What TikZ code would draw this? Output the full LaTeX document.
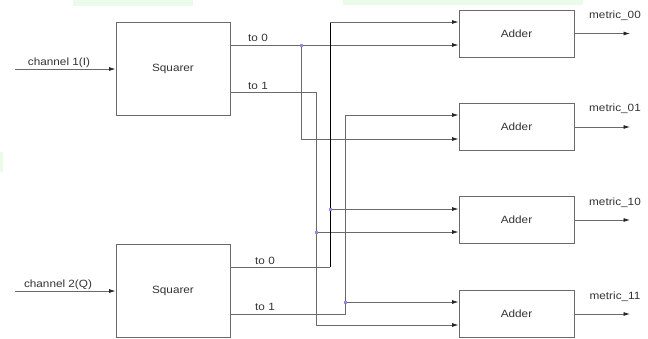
\documentclass[tikz,border=0pt]{standalone}
\usepackage{fontspec}
\setmainfont{Liberation Sans}
\usetikzlibrary{arrows.meta}
\definecolor{wire}{HTML}{6A6A6A}
\definecolor{dotc}{HTML}{8C8CE6}
\definecolor{bgreen}{HTML}{EAFBEA}
\definecolor{txt}{HTML}{333333}
\tikzset{
  blk/.style={draw=wire, line width=0.9pt, minimum width=114pt, inner sep=0pt, font=\fontsize{10.5}{12}\selectfont, text=txt},
  sq/.style={blk, minimum height=93pt},
  add/.style={blk, minimum height=47pt, minimum width=115pt},
  w/.style={draw=wire, line width=0.8pt},
  arr/.style={w, -{Latex[length=6.5pt,width=4pt,color=black!85]}},
  lbl/.style={font=\fontsize{10.5}{12}\selectfont, text=txt, xscale=1.12, inner sep=0pt},
  jdot/.style={fill=dotc, minimum size=3pt, inner sep=0pt, draw=none}
}
\begin{document}
\begin{tikzpicture}[x=1pt,y=-1pt]
\useasboundingbox (0,0) rectangle (648,338);
% faint background artifacts
\fill[bgreen] (73,0) rectangle (193,6);
\fill[bgreen] (343,0) rectangle (583,5);
\fill[bgreen] (0,152) rectangle (3,172);

% blocks
\node[sq] (s1) at (173,68.5) {\scalebox{1.12}[1]{Squarer}};
\node[sq] (s2) at (173,290.5) {\scalebox{1.12}[1]{Squarer}};
\node[add] (a00) at (516.5,33.5) {\scalebox{1.12}[1]{Adder}};
\node[add] (a01) at (516.5,127) {\scalebox{1.12}[1]{Adder}};
\node[add] (a10) at (516.5,220) {\scalebox{1.12}[1]{Adder}};
\node[add] (a11) at (516.5,314) {\scalebox{1.12}[1]{Adder}};

% inputs
\coordinate (i1) at (15,69);
\coordinate (i2) at (15,291);
\draw[arr] (i1) -- (s1.west |- i1);
\draw[arr] (i2) -- (s2.west |- i2);
\node[lbl] (l1) at (59,63) {channel 1(I)};
\node[lbl] (l2) at (58,285) {channel 2(Q)};

% junction/corner coordinates
\coordinate (o10) at (s1.east |- 0,45);
\coordinate (o11) at (s1.east |- 0,92);
\coordinate (o20) at (s2.east |- 0,267);
\coordinate (o21) at (s2.east |- 0,314);
\coordinate (j1) at (301,45);
\coordinate (j2) at (316,232);
\coordinate (j3) at (330,209);
\coordinate (j4) at (345,302);

% S1 to 0
\draw[arr] (o10) -- (a00.west |- 0,45);
\draw[arr] (j1) |- (a01.west |- 0,139);
% S1 to 1
\draw[arr] (o11) -| (316,325) -- (a11.west |- 0,325);
\draw[arr] (j2) -- (a10.west |- j2);
% S2 to 0
\draw[w] (o20) -- (330,267);
\draw[line width=0.6pt, black] (330,267) -- (330,22);
\draw[arr] (330,22) -- (a00.west |- 0,22);
\draw[arr] (j3) -- (a10.west |- j3);
% S2 to 1
\draw[arr] (o21) -| (345,115) -- (a01.west |- 0,115);
\draw[arr] (j4) -- (a11.west |- j4);

% junction dots
\node[jdot] (d1) at (j1) {};
\node[jdot] (d2) at (j2) {};
\node[jdot] (d3) at (j3) {};
\node[jdot] (d4) at (j4) {};

% output labels of squarers
\node[lbl] (t10) at (258,38) {to 0};
\node[lbl] (t11) at (258,86) {to 1};
\node[lbl] (t20) at (265,261) {to 0};
\node[lbl] (t21) at (265,307) {to 1};

% outputs
\coordinate (e00) at (630,33.5);
\coordinate (e01) at (630,127);
\coordinate (e10) at (630,220);
\coordinate (e11) at (630,314);
\draw[arr] (a00.east) -- (e00);
\draw[arr] (a01.east) -- (e01);
\draw[arr] (a10.east) -- (e10);
\draw[arr] (a11.east) -- (e11);
\node[lbl] (m00) at (615,16) {metric\_00};
\node[lbl] (m01) at (615,109) {metric\_01};
\node[lbl] (m10) at (615,203) {metric\_10};
\node[lbl] (m11) at (615,297) {metric\_11};
\end{tikzpicture}
\end{document}
